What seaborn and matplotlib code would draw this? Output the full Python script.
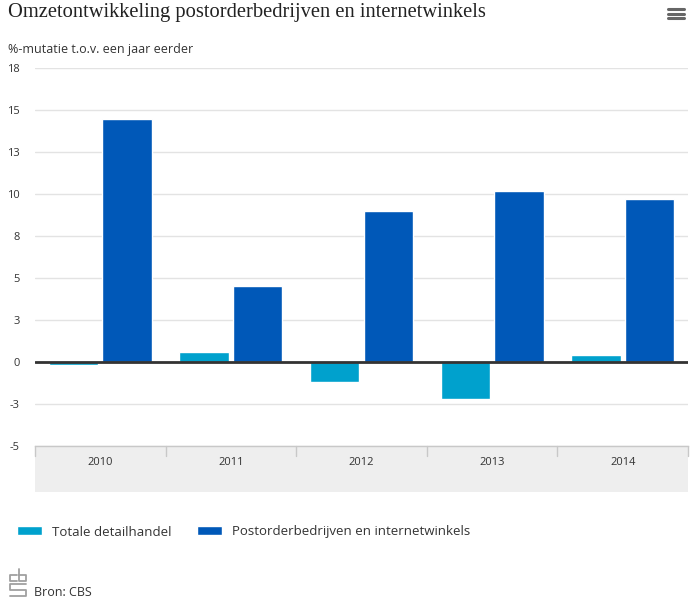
import numpy as np
import pandas as pd
import matplotlib

matplotlib.use("Agg")
import matplotlib.pyplot as plt
import seaborn as sns
from matplotlib.patches import Rectangle
from matplotlib.lines import Line2D

# data
years = ["2010", "2011", "2012", "2013", "2014"]
totale_detailhandel = [-0.2, 0.6, -1.2, -2.2, 0.4]
postorder_internet = [14.5, 4.5, 9.0, 10.2, 9.7]
series_names = ["Totale detailhandel", "Postorderbedrijven en internetwinkels"]
y_ticks = [-5, -2.5, 0, 2.5, 5, 7.5, 10, 12.5, 15, 17.5]
y_tick_labels = ["-5", "-3", "0", "3", "5", "8", "10", "13", "15", "18"]

colors = ["#00a1cd", "#0058b8"]

df = pd.DataFrame(
    {
        "jaar": years * 2,
        "waarde": totale_detailhandel + postorder_internet,
        "reeks": [series_names[0]] * len(years) + [series_names[1]] * len(years),
    }
)

sns.set_theme(style="white")
plt.rcParams["font.family"] = ["Open Sans", "DejaVu Sans"]

W, H = 690, 609
fig = plt.figure(figsize=(W / 100, H / 100), dpi=100)


def fx(x):
    return x / W


def fy(y):
    return 1 - y / H


ax_left, ax_right, ax_top, ax_bottom = 35, 688, 68.3, 445.7
ax = fig.add_axes([fx(ax_left), fy(ax_bottom), fx(ax_right - ax_left), (ax_bottom - ax_top) / H])

sns.barplot(
    data=df, x="jaar", y="waarde", hue="reeks", palette=colors,
    width=0.82, gap=0.08, ax=ax, saturation=1, zorder=3,
)

ax.set_ylim(-5, 17.5)
ax.set_xlim(-0.5, len(years) - 0.5)
ax.set_yticks(y_ticks)
ax.set_yticklabels(y_tick_labels)
ax.set_xlabel("")
ax.set_ylabel("")
ax.tick_params(axis="y", length=0, pad=11, labelsize=8, labelcolor="#333333")
ax.tick_params(axis="x", length=0, pad=8, labelsize=8, labelcolor="#333333")
ax.yaxis.grid(True, color="#e3e3e3", lw=1, zorder=0)
ax.axhline(0, color="#333333", lw=2, zorder=4)
for s in ["top", "right", "left"]:
    ax.spines[s].set_visible(False)
ax.spines["bottom"].set_color("#c8c8c8")
ax.spines["bottom"].set_linewidth(1)

# grey category band below the plot
band_h = 46 / (ax_bottom - ax_top)
ax.add_patch(Rectangle((0, -band_h), 1, band_h, transform=ax.transAxes,
                       facecolor="#eeeeee", edgecolor="none", clip_on=False, zorder=0))
tick_h = 10 / (ax_bottom - ax_top)
for b in np.arange(-0.5, len(years), 1.0):
    ax.axvline(b, ymin=-tick_h, ymax=0, color="#c8c8c8", lw=1, clip_on=False)

# legend
handles, labels = ax.get_legend_handles_labels()
ax.get_legend().remove()
fig.legend(
    handles, labels, loc="center left", bbox_to_anchor=(fx(17), fy(532)),
    ncol=2, frameon=False, fontsize=9.5, handlelength=1.9, handleheight=0.68,
    handletextpad=0.78, columnspacing=1.9, borderpad=0, borderaxespad=0,
    labelcolor="#333333",
)

# titles
fig.text(fx(8), fy(12), "Omzetontwikkeling postorderbedrijven en internetwinkels",
         family="Liberation Serif", fontsize=14.8, color="#222222", va="center", ha="left")
fig.text(fx(8), fy(49), "%-mutatie t.o.v. een jaar eerder",
         fontsize=9, color="#333333", va="center", ha="left")
fig.text(fx(34), fy(593), "Bron: CBS", fontsize=9, color="#333333", va="center", ha="left")

# menu icon
for yy in [9, 13.5, 18]:
    fig.add_artist(Line2D([fx(668), fx(684)], [fy(yy), fy(yy)], color="#666666", lw=2.2,
                          solid_capstyle="round"))

# cbs logo (rough outline)
logo_col = "#a0a0a0"
logo_lines = [
    ([17, 10, 10, 17], [575, 575, 581, 581]),            # c
    ([19, 19, 26, 26, 19], [569, 581, 581, 575, 575]),    # b
    ([26, 10, 10, 26, 26, 10], [584, 584, 589.5, 589.5, 596, 596]),  # s
]
for xs, ys in logo_lines:
    fig.add_artist(Line2D([fx(v) for v in xs], [fy(v) for v in ys],
                          color=logo_col, lw=1.3))

fig.savefig("out.png", dpi=100)
